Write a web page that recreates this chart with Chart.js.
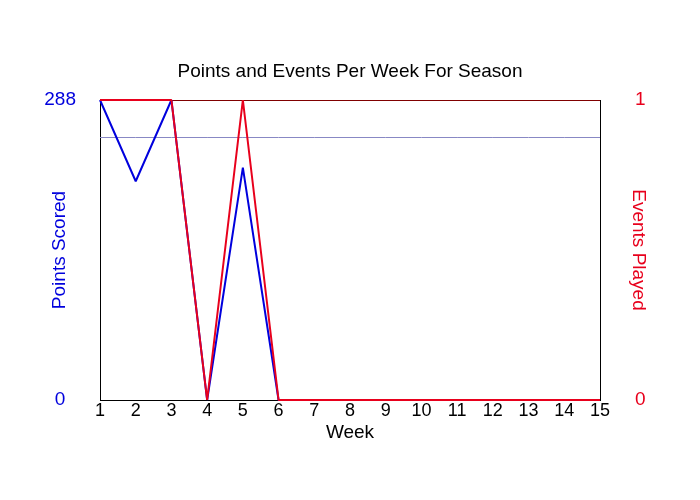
<!DOCTYPE html>
<html>
<head>
<meta charset="utf-8">
<script src="https://cdn.jsdelivr.net/npm/chart.js@4/dist/chart.umd.min.js"></script>
<style>
  html, body { margin: 0; padding: 0; background: #fff; }
  #wrap { width: 700px; height: 500px; }
</style>
</head>
<body>
<div id="wrap"><canvas id="season-chart" width="700" height="500"></canvas></div>
<script>
var weeks = ['1', '2', '3', '4', '5', '6', '7', '8', '9', '10', '11', '12', '13', '14', '15'];
var pointsScored = [288, 210, 288, 0, 223, 0, 0, 0, 0, 0, 0, 0, 0, 0, 0];
var eventsPlayed = [1, 1, 1, 0, 1, 0, 0, 0, 0, 0, 0, 0, 0, 0, 0];
var averagePoints = [252, 252, 252, 252, 252, 252, 252, 252, 252, 252, 252, 252, 252, 252, 252];
var pointsTicks = [0, 288];
var eventsTicks = [0, 1];

var FONT = 'Liberation Sans, Arial, sans-serif';
var BLUE = '#0000dd';
var RED = '#e8001c';

var ctx = document.getElementById('season-chart');

var chart = new Chart(ctx, {
    type: 'line',
    data: {
        labels: weeks,
        datasets: [{
                label: 'Events Played',
                data: eventsPlayed,
                yAxisID: 'yEvents',
                borderColor: RED,
                borderWidth: 2,
                borderJoinStyle: 'bevel',
                pointRadius: 0,
                tension: 0,
                clip: false,
                order: 0
            }, {
                label: 'Points Scored',
                data: pointsScored,
                yAxisID: 'yPoints',
                borderColor: BLUE,
                borderWidth: 2,
                borderJoinStyle: 'bevel',
                pointRadius: 0,
                tension: 0,
                clip: false,
                order: 1
            }, {
                label: 'Average',
                data: averagePoints,
                yAxisID: 'yPoints',
                borderColor: '#8888c4',
                borderWidth: 1,
                pointRadius: 0,
                order: 2
            }]
    },
    options: {
        responsive: false,
        animation: false,
        layout: {padding: 0},
        plugins: {
            legend: {display: false},
            tooltip: {enabled: false},
            title: {
                display: true,
                text: 'Points and Events Per Week For Season',
                color: '#000',
                font: {family: FONT, size: 19, weight: 'normal'},
                padding: {top: 60.6, bottom: 16.6}
            }
        },
        scales: {
            x: {
                offset: false,
                grid: {display: false, drawTicks: false},
                border: {color: '#000', width: 1},
                ticks: {
                    color: '#000',
                    font: {family: FONT, size: 18},
                    padding: 0,
                    maxRotation: 0,
                    autoSkip: false
                },
                title: {
                    display: true,
                    text: 'Week',
                    color: '#000',
                    font: {family: FONT, size: 19},
                    padding: {top: 0, bottom: 56}
                },
                afterFit: function (scale) { scale.height = 100; }
            },
            yPoints: {
                position: 'left',
                min: 0,
                max: 288,
                grid: {display: false, drawTicks: false},
                border: {color: '#000', width: 1},
                ticks: {
                    color: BLUE,
                    font: {family: FONT, size: 19},
                    crossAlign: 'center',
                    padding: 24
                },
                afterBuildTicks: function (scale) {
                    scale.ticks = pointsTicks.map(function (v) { return {value: v}; });
                },
                title: {
                    display: true,
                    text: 'Points Scored',
                    color: BLUE,
                    font: {family: FONT, size: 19},
                    padding: {top: 48.6, bottom: 0}
                },
                afterFit: function (scale) { scale.width = 100; }
            },
            yEvents: {
                position: 'right',
                min: 0,
                max: 1,
                grid: {display: false, drawTicks: false},
                border: {color: '#000', width: 1},
                ticks: {
                    color: RED,
                    font: {family: FONT, size: 19},
                    crossAlign: 'center',
                    padding: 35
                },
                afterBuildTicks: function (scale) {
                    scale.ticks = eventsTicks.map(function (v) { return {value: v}; });
                },
                title: {
                    display: true,
                    text: 'Events Played',
                    color: RED,
                    font: {family: FONT, size: 19},
                    padding: {top: 50.6, bottom: 0}
                },
                afterFit: function (scale) { scale.width = 100; }
            }
        }
    },
    plugins: [{
            id: 'top-frame-line',
            beforeDatasetsDraw: function (chart) {
                var a = chart.chartArea;
                var c = chart.ctx;
                c.save();
                c.strokeStyle = '#800000';
                c.lineWidth = 1;
                c.beginPath();
                c.moveTo(a.left, a.top + 0.5);
                c.lineTo(a.right, a.top + 0.5);
                c.stroke();
                c.restore();
            }
        }]
});
</script>
</body>
</html>
